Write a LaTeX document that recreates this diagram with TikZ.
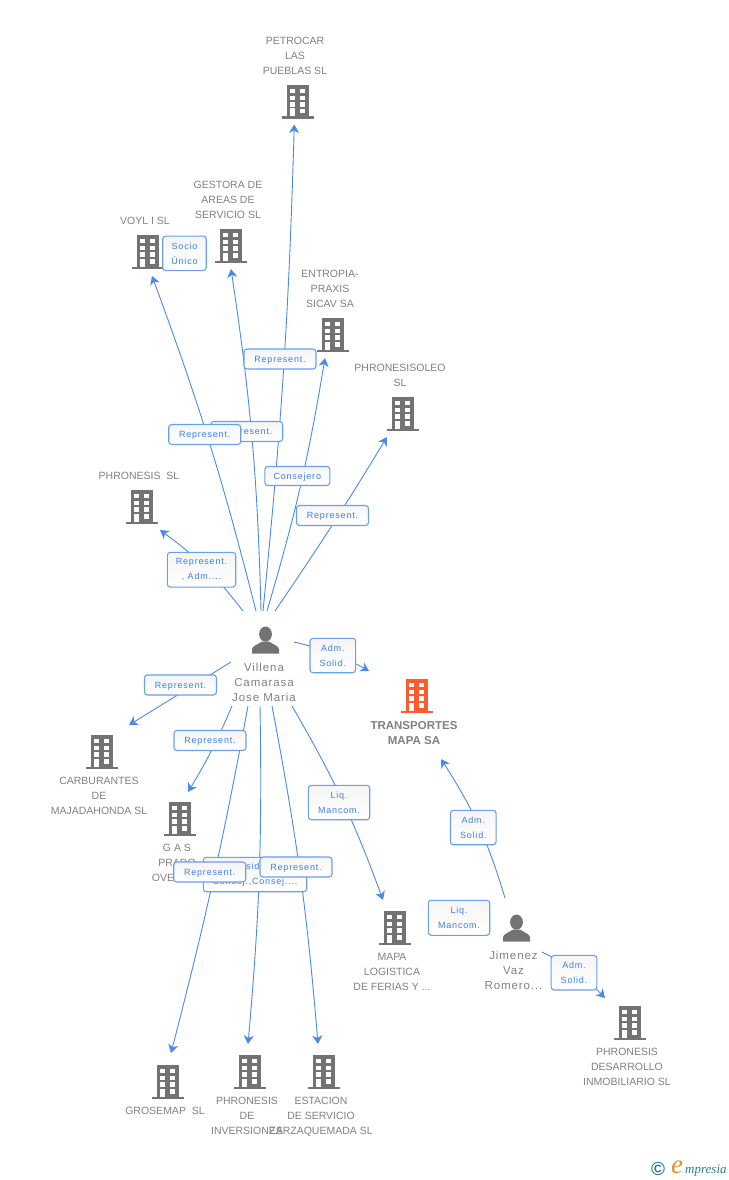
\documentclass[tikz,border=0pt]{standalone}
\usepackage{fontspec}
\usepackage[dvipsnames]{xcolor}
\usetikzlibrary{positioning,arrows.meta}
\setmainfont{Liberation Sans}
\newfontfamily\compfont{Liberation Sans}
\newfontfamily\relfont[LetterSpace=9]{Liberation Sans}
\newfontfamily\persfont[LetterSpace=8]{Liberation Sans}
\newfontfamily\logofont{Liberation Serif}
\definecolor{linkblue}{HTML}{4A8AE8}
\definecolor{relblue}{HTML}{3C7FE3}
\definecolor{boxblue}{HTML}{6A9FEA}
\definecolor{compgray}{HTML}{808080}
\definecolor{icongray}{HTML}{737373}
\definecolor{iconred}{HTML}{FF5C2E}
\definecolor{logoteal}{HTML}{2C7C93}
\definecolor{logoorange}{HTML}{F08A24}

\tikzset{
    bldgicon/.pic={
        \fill[#1] (-11.4,-17) rectangle (11.2,14.5);
        \fill[#1] (-16,14.5) rectangle (16,17);
        \foreach \wy in {-13,-6.3,0.3} {
            \fill[white] (-7.7,\wy) rectangle (-3,\wy+4.3);
            \fill[white] (2,\wy) rectangle (7,\wy+4.3);
        }
        \fill[white] (-7.7,6.5) rectangle (-3,14.5);
        \fill[white] (2,7) rectangle (7,11.5);
    },
    persicon/.pic={
        \fill[icongray] (0,-5.9) ellipse (6.4 and 7.6);
        \fill[icongray] (-13.5,13.5) -- (-13.5,9.5) .. controls (-13.5,6) and (-8.5,5) .. (-3.5,1.5)
            -- (3.5,1.5) .. controls (8.5,5) and (13.5,6) .. (13.5,9.5) -- (13.5,13.5) -- cycle;
    }
}

\begin{document}
\begin{tikzpicture}[x=1pt,y=-1pt,>={Stealth[length=8.5pt,width=10pt,inset=2.5pt]},
    bldg/.style={minimum width=32pt,minimum height=34pt,inner sep=0pt,outer sep=0pt},
    pers/.style={minimum width=27pt,minimum height=27pt,inner sep=0pt,outer sep=0pt},
    comp/.style={align=center,inner sep=0pt,xshift=-3pt,text=compgray,font=\compfont\fontsize{10.5}{15}\selectfont},
    perstxt/.style={align=center,inner sep=0pt,text=compgray,font=\persfont\fontsize{11.5}{15}\selectfont},
    link/.style={->,linkblue,line width=0.9pt},
    relbox/.style 2 args={draw=boxblue,line width=1.1pt,rounded corners=3pt,top color=black!4,bottom color=white,
        inner sep=0pt,align=center,minimum width=#1pt,minimum height=#2pt,text=relblue,font=\relfont\fontsize{9}{15}\selectfont},
    relrow/.style={relbox={72}{20},text depth=0pt}]

    \useasboundingbox (0,0) rectangle (728,1180);

    \node[bldg] (petrocar) at (298,102) {};
    \node[bldg] (voyl) at (148,252) {};
    \node[bldg] (gestora) at (231,246) {};
    \node[bldg] (entropia) at (333,335) {};
    \node[bldg] (oleo) at (403,414) {};
    \node[bldg] (phronesis) at (142,507) {};
    \node[bldg] (transportes) at (417,696) {};
    \node[bldg] (carburantes) at (102,752) {};
    \node[bldg] (gas) at (180,819) {};
    \node[bldg] (mapa) at (395,928) {};
    \node[bldg] (grosemap) at (168,1082) {};
    \node[bldg] (inversiones) at (250,1072) {};
    \node[bldg] (estacion) at (324,1072) {};
    \node[bldg] (desarrollo) at (630,1023) {};
    \node[pers] (villena) at (265.5,640) {};
    \node[pers] (jimenez) at (516.5,928) {};

    \foreach \bname in {petrocar,voyl,gestora,entropia,oleo,phronesis,carburantes,gas,mapa,grosemap,inversiones,estacion,desarrollo}
        \pic at (\bname) {bldgicon=icongray};
    \pic at (transportes) {bldgicon=iconred};
    \foreach \pname in {villena,jimenez}
        \pic at (\pname) {persicon};

    \node[comp, above=10pt of petrocar] (petrocartxt) {PETROCAR\\LAS\\PUEBLAS SL};
    \node[comp, above=10pt of voyl] (voyltxt) {VOYL I SL};
    \node[comp, above=10pt of gestora] (gestoratxt) {GESTORA DE\\AREAS DE\\SERVICIO SL};
    \node[comp, above=10pt of entropia] (entropiatxt) {ENTROPIA-\\PRAXIS\\SICAV SA};
    \node[comp, above=10pt of oleo] (oleotxt) {PHRONESISOLEO\\SL};
    \node[comp, above=10pt of phronesis] (phronesistxt) {PHRONESIS~~SL};
    \node[comp, below=8pt of carburantes] (carburantestxt) {CARBURANTES\\DE\\MAJADAHONDA SL};
    \node[comp, below=8pt of gas] (gastxt) {G A S\\PRADO\\OVEJERO};
    \node[comp, below=8pt of mapa] (mapatxt) {MAPA\\LOGISTICA\\DE FERIAS Y ...};
    \node[comp, below=8pt of grosemap] (grosemaptxt) {GROSEMAP~~SL};
    \node[comp, below=8pt of inversiones] (inversionestxt) {PHRONESIS\\DE\\INVERSIONES};
    \node[comp, below=8pt of estacion] (estaciontxt) {ESTACION\\DE SERVICIO\\ZARZAQUEMADA SL};
    \node[comp, below=8pt of desarrollo] (desarrollotxt) {PHRONESIS\\DESARROLLO\\INMOBILIARIO SL};
    \node[comp, below=8pt of transportes, font=\compfont\bfseries\fontsize{11.5}{15}\selectfont] (transportestxt) {TRANSPORTES\\MAPA SA};
    \node[perstxt, below=9pt of villena, xshift=-1.5pt] (villenatxt) {Villena\\Camarasa\\Jose Maria};
    \node[perstxt, below=9pt of jimenez, xshift=-3pt] (jimeneztxt) {Jimenez\\Vaz\\Romero...};

    \path[link]
        ([shift={(-9.5,-15.5)}]villena.north) edge[bend right=3] ([shift={(4,7)}]voyl.south)
        ([shift={(-4.5,-15.5)}]villena.north) edge[bend right=3.5] ([shift={(0,6)}]gestora.south)
        ([shift={(-2.5,-15.5)}]villena.north) edge[bend right=2] ([shift={(-3.7,5.5)}]petrocar.south)
        ([shift={(1.5,-15.5)}]villena.north) edge[bend right=3.5] ([shift={(-8,6)}]entropia.south)
        ([shift={(9.5,-15.5)}]villena.north) edge[bend right=1.5] ([shift={(-16,6)}]oleo.south)
        ([shift={(-22.5,-15.5)}]villena.north) edge[bend right=8] ([shift={(18,6)}]phronesis.south)
        ([shift={(15,2)}]villena.east) edge[bend left=8] ([shift={(-32,-25)}]transportes.west)
        ([shift={(-21,8.5)}]villena.south west) edge ([shift={(27,-10)}]carburantes.north)
        ([shift={(-33.5,52.5)}]villena.south) edge[bend left=4] ([shift={(8,-10)}]gas.north)
        ([shift={(-17.5,52.5)}]villena.south) edge[bend left=2] ([shift={(3,-12)}]grosemap.north)
        ([shift={(-5.5,52.5)}]villena.south) edge[bend left=3] ([shift={(-2,-11)}]inversiones.north)
        ([shift={(6.5,52.5)}]villena.south) edge[bend left=3] ([shift={(-6,-11)}]estacion.north)
        ([shift={(26.5,52.5)}]villena.south) edge[bend left=5] ([shift={(-12,-11)}]mapa.north)
        ([shift={(-11.5,-16.5)}]jimenez.north) edge[bend right=8] ([shift={(24,46)}]transportes.south)
        ([shift={(12,24)}]jimenez.east) edge[bend left=10] ([shift={(-9,-25)}]desarrollo.west);

    \node[relbox={43.5}{34.5}] (socio) at (184.5,253.3) {Socio\\Único};
    \node[relrow] (reppetrocar) at (280,359) {Represent.};
    \node[relrow] (repgestora) at (246.7,431.5) {Represent.};
    \node[relrow] (repvoyl) at (204.7,434.5) {Represent.};
    \node[relbox={65}{19},text depth=0pt] (consejero) at (297.3,476) {Consejero};
    \node[relrow] (repoleo) at (332.5,515.5) {Represent.};
    \node[relbox={68.4}{34.7}] (repadm) at (201.5,569.7) {Represent.\\, Adm....};
    \node[relbox={45.7}{34.4}] (admtrans) at (332.8,655.5) {Adm.\\Solid.};
    \node[relrow] (repcarb) at (180.5,685) {Represent.};
    \node[relrow] (repgas) at (210,740.5) {Represent.};
    \node[relbox={61.4}{34.4}] (liqmapa) at (339,802.5) {Liq.\\Mancom.};
    \node[relbox={103.4}{34.4}] (presinv) at (255,874.5) {Presidente\\Consej.,Consej....};
    \node[relrow] (repest) at (296,867) {Represent.};
    \node[relrow] (repgros) at (209.7,872) {Represent.};
    \node[relbox={45.7}{34.4}] (admjim) at (473.3,827.5) {Adm.\\Solid.};
    \node[relbox={61.4}{35}] (liqjim) at (459,917.8) {Liq.\\Mancom.};
    \node[relbox={45.7}{34.6}] (admdes) at (574,972.7) {Adm.\\Solid.};

    \node[inner sep=0pt, text=logoteal, font=\compfont\bfseries\fontsize{19}{19}\selectfont] (logoc) at (658,1169) {©};
    \node[inner sep=0pt, anchor=base west, text=logoorange, font=\logofont\itshape\fontsize{27}{27}\selectfont] (logoe) at (671,1173) {e};
    \node[inner sep=0pt, anchor=base west, text=logoteal, font=\logofont\itshape\fontsize{13}{14}\selectfont] (logotxt) at (685,1173) {mpresia};
\end{tikzpicture}
\end{document}
